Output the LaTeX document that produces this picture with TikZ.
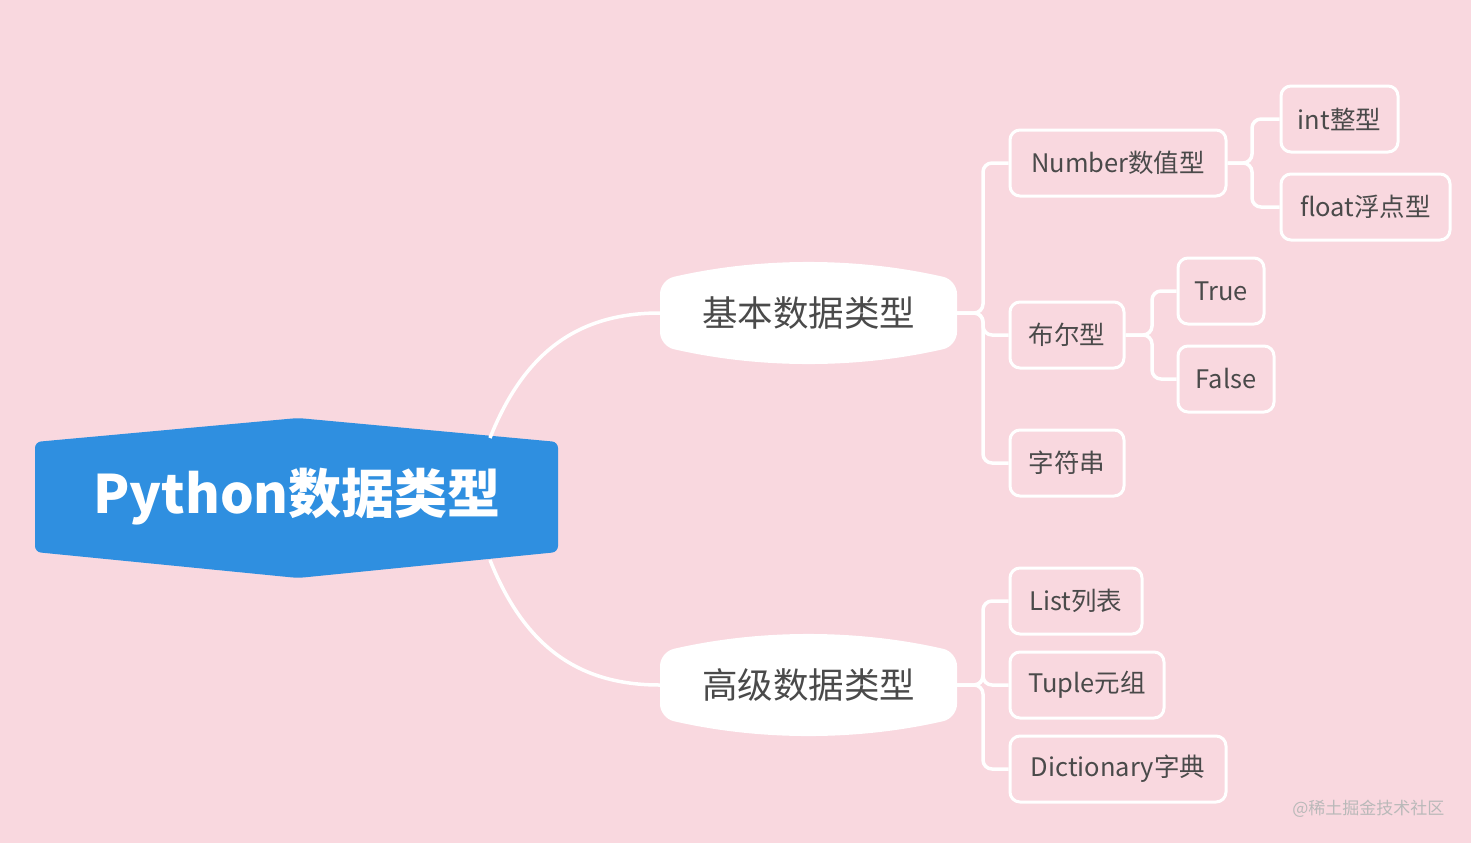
\documentclass[tikz,border=0pt]{standalone}
\usepackage{fontspec}
\setmainfont{Noto Sans CJK SC}
\definecolor{bg}{HTML}{F9D8DF}
\definecolor{blu}{HTML}{2F8FE0}
\definecolor{txt}{HTML}{4A4A4A}
\begin{document}
\begin{tikzpicture}[x=1pt,y=-1pt,
 conn/.style={draw=white,line width=3.5pt,rounded corners=9pt},
 leaf/.style={draw=white,line width=3pt,rounded corners=10pt,fill=bg,text=txt,font=\fontsize{25.5}{28}\selectfont,minimum height=66pt,inner xsep=0pt},
 lone/.style={text=txt,font=\fontsize{35.5}{38}\selectfont,minimum width=297pt,minimum height=103pt}]
\fill[bg] (0,0) rectangle (1471,843);
\useasboundingbox (0,0) rectangle (1471,843);
% root shape
\fill[blu,rounded corners=6pt] (35,442) -- (298,418) -- (558,442) -- (558,552) -- (298,578) -- (35,552) -- cycle;
\node[text=white,font=\bfseries\fontsize{53}{58}\selectfont,minimum width=523pt,minimum height=110pt] (root) at (297,497) {Python数据类型};
% level1 shapes
\foreach \cy in {313,685}{
 \fill[white,rounded corners=14pt] (660,\cy-33) .. controls (760,\cy-56) and (857,\cy-56) .. (957,\cy-33) -- (957,\cy+33) .. controls (857,\cy+56) and (760,\cy+56) .. (660,\cy+33) -- cycle;
}
\node[lone] (b1) at (808.5,313) {基本数据类型};
\node[lone] (b2) at (808.5,685) {高级数据类型};
% connectors root -> level1
\draw[conn] (490,438) .. controls (525,350) and (580,313) .. (b1.west);
\draw[conn] (490,560) .. controls (525,648) and (580,685) .. (b2.west);
% leaves
\node[leaf,minimum width=216pt] (num) at (1118,163) {Number数值型};
\node[leaf,minimum width=114pt] (bool) at (1067,335) {布尔型};
\node[leaf,minimum width=114pt] (str) at (1067,463) {字符串};
\node[leaf,minimum width=117pt] (int) at (1339.5,119) {int整型};
\node[leaf,minimum width=169pt] (flt) at (1365.5,207) {float浮点型};
\node[leaf,minimum width=86pt] (tru) at (1221,291) {True};
\node[leaf,minimum width=96pt] (fal) at (1226,379) {False};
\node[leaf,minimum width=132pt] (lst) at (1076,601) {List列表};
\node[leaf,minimum width=154pt] (tup) at (1087,685) {Tuple元组};
\node[leaf,minimum width=216pt] (dic) at (1118,769) {Dictionary字典};
\coordinate (t1) at (983,313);
\coordinate (t2) at (983,685);
\coordinate (t3) at (1252,163);
\coordinate (t4) at (1152,335);
\foreach \l in {num,bool,str}{\draw[conn] (b1.east) -- (t1) |- (\l.west);}
\foreach \l in {lst,tup,dic}{\draw[conn] (b2.east) -- (t2) |- (\l.west);}
\foreach \l in {int,flt}{\draw[conn] (num.east) -- (t3) |- (\l.west);}
\foreach \l in {tru,fal}{\draw[conn] (bool.east) -- (t4) |- (\l.west);}
\node[text=white!45!gray,font=\fontsize{17}{19}\selectfont,anchor=east] (wm) at (1448,809) {@稀土掘金技术社区};
\end{tikzpicture}
\end{document}
